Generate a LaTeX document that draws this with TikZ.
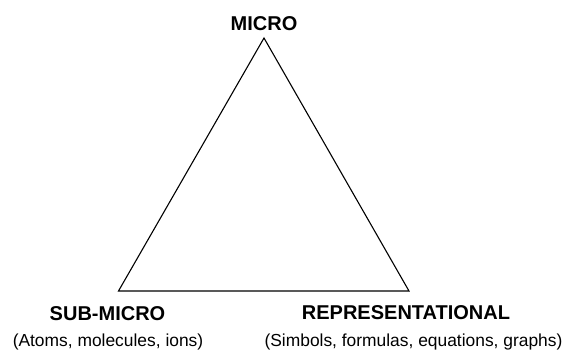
\documentclass[tikz,border=0pt]{standalone}
\usepackage{fontspec}
\setmainfont{Liberation Sans}
\usepackage{tikz}

\tikzset{
  level/.style={anchor=base, inner sep=0pt, font=\fontsize{20}{24}\selectfont\bfseries},
  levelnote/.style={anchor=base, inner sep=0pt, font=\fontsize{17.4}{21}\selectfont},
}

\begin{document}
\begin{tikzpicture}[x=1pt,y=1pt]
\useasboundingbox (0,0) rectangle (563,349);
\coordinate (top) at (264,311);
\coordinate (left) at (118.5,58);
\coordinate (right) at (409,58);
\node [level] (micro) at (264,318.3) {MICRO};
\node [level] (submicro) at (107.5,29) {SUB-MICRO};
\node [level] (repr) at (406,30) {REPRESENTATIONAL};
\node [levelnote] (atoms) at (108,3) {(Atoms, molecules, ions)};
\node [levelnote] (simbols) at (413.5,3) {(Simbols, formulas, equations, graphs)};
\draw [line width=1.1pt, line join=miter] (top) -- (left) -- (right) -- cycle;
\end{tikzpicture}
\end{document}
